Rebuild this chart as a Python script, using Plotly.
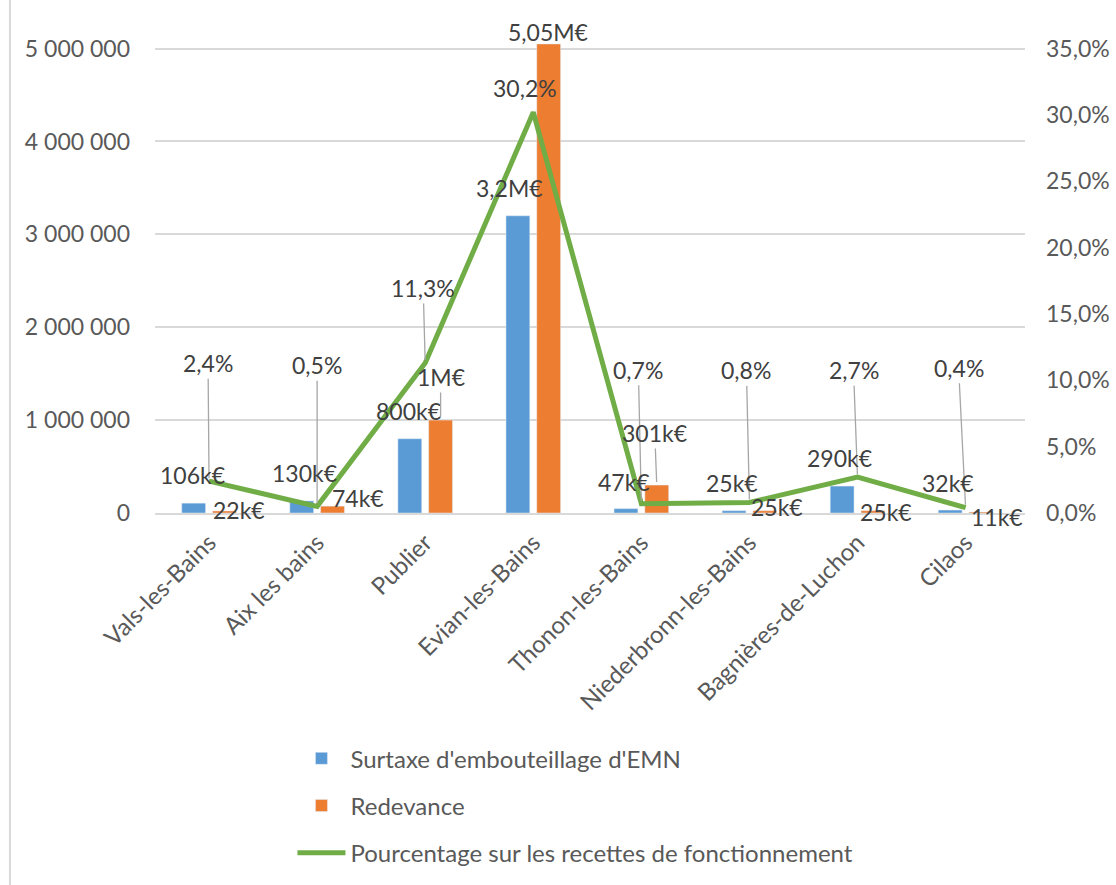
import plotly.graph_objects as go

categories = ["Vals-les-Bains", "Aix les bains", "Publier", "Evian-les-Bains",
              "Thonon-les-Bains", "Niederbronn-les-Bains", "Bagnières-de-Luchon", "Cilaos"]
surtaxe = [106000, 130000, 800000, 3200000, 47000, 25000, 290000, 32000]
redevance = [22000, 74000, 1000000, 5050000, 301000, 25000, 25000, 11000]
pourcentage = [0.024, 0.005, 0.113, 0.302, 0.007, 0.008, 0.027, 0.004]
surtaxe_labels = ["106k€", "130k€", "800k€", "3,2M€", "47k€", "25k€", "290k€", "32k€"]
redevance_labels = ["22k€", "74k€", "1M€", "5,05M€", "301k€", "25k€", "25k€", "11k€"]
pct_labels = ["2,4%", "0,5%", "11,3%", "30,2%", "0,7%", "0,8%", "2,7%", "0,4%"]

# label placement (pixel offsets from the mark), styles
pct_off = [(-1, -118, True), (0, -141, True), (-2, -75, True), (-8, -24, False),
           (-3, -134, True), (-3, -132, True), (-4, -107, True), (-7, -140, True)]
sur_off = [(-1, -28), (3, -28), (-1, -28), (-8, -28), (-2, -27), (-2, -28), (-3, -28), (-2, -27)]
red_off = [(15, -1, False), (25, -8, False), (0, -43, True), (-1, -12, False),
           (-2, -52, True), (12, -4, False), (13, 1, False), (16, 5, False)]

BLUE = "#5B9BD5"
ORANGE = "#ED7D31"
GREEN = "#70AD47"
TXT = "#404040"
TICK = "#595959"
FONT = "Lato"
LBL = 23

YMAX = 5000000
YTOP = 5060000  # plot area reaches a little above the top gridline
P2MAX = 0.35

fig = go.Figure()
fig.add_trace(go.Bar(name="Surtaxe d'embouteillage d'EMN", x=categories, y=surtaxe,
                     marker_color=BLUE, legendgroup="a"))
fig.add_trace(go.Bar(name="Redevance", x=categories, y=redevance,
                     marker_color=ORANGE, legendgroup="b"))
fig.add_trace(go.Scatter(name="Pourcentage sur les recettes de fonctionnement", x=categories,
                         y=pourcentage, yaxis="y2", mode="lines",
                         line=dict(color=GREEN, width=5), legendgroup="c"))

annotations = []
n = len(categories)
half = 0.1425  # bar centre offset from category centre, in category units
for i in range(n):
    dx, dy, arrow = pct_off[i]
    annotations.append(dict(x=i, y=pourcentage[i], xref="x", yref="y2", text=pct_labels[i],
                            showarrow=arrow, arrowhead=0, arrowwidth=1.3, arrowcolor="#A6A6A6",
                            ax=dx, ay=dy, standoff=3,
                            xshift=0 if arrow else dx, yshift=0 if arrow else -dy,
                            font=dict(size=LBL, color=TXT, family=FONT)))
    dx, dy = sur_off[i]
    annotations.append(dict(x=i - half, y=surtaxe[i], xref="x", yref="y",
                            text=surtaxe_labels[i], showarrow=False,
                            xshift=dx, yshift=-dy, font=dict(size=LBL, color=TXT, family=FONT)))
    dx, dy, arrow = red_off[i]
    annotations.append(dict(x=i + half, y=redevance[i], xref="x", yref="y",
                            text=redevance_labels[i], showarrow=arrow, arrowhead=0,
                            arrowwidth=1.3, arrowcolor="#A6A6A6", ax=dx, ay=dy, standoff=3,
                            xshift=0 if arrow else dx, yshift=0 if arrow else -dy,
                            font=dict(size=LBL, color=TXT, family=FONT)))

fig.update_layout(
    width=1116, height=885,
    margin=dict(l=155, r=91, t=43, b=372, autoexpand=False),
    paper_bgcolor="white", plot_bgcolor="white",
    separators=", ",
    barmode="group", bargap=0.43, bargroupgap=0.226,
    font=dict(family=FONT, size=23, color=TICK),
    xaxis=dict(tickangle=-45, tickfont=dict(size=24, color=TICK), showgrid=False,
               showline=True, linecolor="#D9D9D9", linewidth=2, ticks="",
               automargin=False, ticklabelstandoff=4),
    yaxis=dict(range=[0, YTOP], tickvals=[0, 1000000, 2000000, 3000000, 4000000, YMAX],
               tickformat=",d", showgrid=True,
               gridcolor="#D9D9D9", gridwidth=1.5, zeroline=False, ticks="",
               tickfont=dict(size=23, color=TICK), automargin=False, ticklabelstandoff=24),
    yaxis2=dict(range=[0, P2MAX * YTOP / YMAX], tickvals=[0, 0.05, 0.1, 0.15, 0.2, 0.25, 0.3, 0.35],
                tickformat=".1%", overlaying="y", side="right",
                showgrid=False, zeroline=False, tickfont=dict(size=23, color=TICK),
                automargin=False, ticklabelstandoff=20),
    legend=dict(orientation="v", x=0.158, y=-0.475, xanchor="left", yanchor="top",
                font=dict(size=24, color=TICK, family=FONT), tracegroupgap=13,
                itemwidth=48, bgcolor="rgba(0,0,0,0)"),
    annotations=annotations,
    shapes=[dict(type="line", xref="paper", yref="paper", x0=-0.1667, x1=-0.1667,
                 y0=-1.0, y1=1.2, line=dict(color="#D9D9D9", width=2))],
)

fig.write_html("out.html", config={"displayModeBar": False},
               post_script="document.body.style.margin='0';document.body.style.overflow='hidden';")
